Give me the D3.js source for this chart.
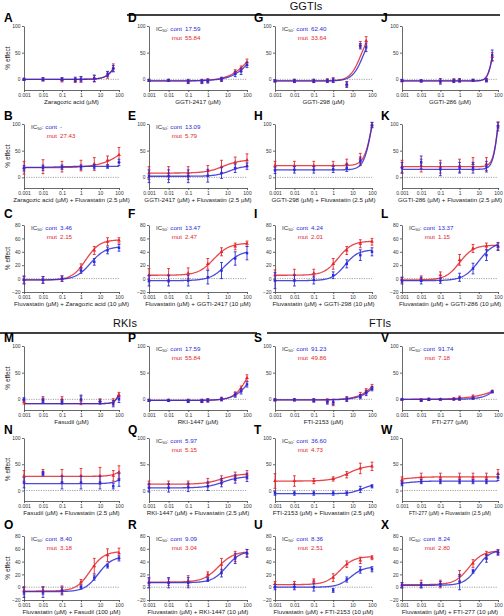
<!DOCTYPE html>
<html><head><meta charset="utf-8">
<script src="https://cdn.jsdelivr.net/npm/d3@7"></script>
<style>body{margin:0;background:#fff}svg{display:block}</style>
</head><body><svg id="chart" width="504" height="616"></svg>
<script>
// ---------------- DATA ----------------
const panelIds = ['A','D','G','J','B','E','H','K','C','F','I','L','M','P','S','V','N','Q','T','W','O','R','U','X'];
const xTitles = [
 'Zaragozic acid (µM)','GGTI-2417 (µM)','GGTI-298 (µM)','GGTI-286 (µM)',
 'Zaragozic acid (µM) + Fluvastatin (2.5 µM)','GGTI-2417 (µM) + Fluvastatin (2.5 µM)','GGTI-298 (µM) + Fluvastatin (2.5 µM)','GGTI-286 (µM) + Fluvastatin (2.5 µM)',
 'Fluvastatin (µM) + Zaragozic acid (10 µM)','Fluvastatin (µM) + GGTI-2417 (10 µM)','Fluvastatin (µM) + GGTI-298 (10 µM)','Fluvastatin (µM) + GGTI-286 (10 µM)',
 'Fasudil (µM)','RKI-1447 (µM)','FTI-2153 (µM)','FTI-277 (µM)',
 'Fasudil (µM) + Fluvastatin (2.5 µM)','RKI-1447 (µM) + Fluvastatin (2.5 µM)','FTI-2153 (µM) + Fluvastatin (2.5 µM)','FTI-277 (µM) + Fluvastatin (2.5 µM)',
 'Fluvastatin (µM) + Fasudil (100 µM)','Fluvastatin (µM) + RKI-1447 (10 µM)','Fluvastatin (µM) + FTI-2153 (10 µM)','Fluvastatin (µM) + FTI-277 (10 µM)'
];
const sectionTitles = ['GGTIs','RKIs','FTIs'];
const icCont = [null,'17.59','62.40',null,'-','13.09',null,null,'3.46','13.47','4.24','13.37',null,'17.59','91.23','91.74',null,'5.97','36.60',null,'8.40','9.09','8.36','8.24'];
const icMut  = [null,'55.84','33.64',null,'27.43','5.79',null,null,'2.15','2.47','2.01','1.15',null,'55.84','49.86','7.18',null,'5.15','4.73',null,'3.18','3.04','2.51','2.80'];
const xTickVals = [0.001,0.01,0.1,1,10,100];
const xTickLabels = ['0.001','0.01','0.1','1','10','100'];

const concs = [
 [0.001,0.01,0.1,0.5,1,5,25,50],
 [0.001,0.01,0.1,0.5,1,5,25,50,100],
 [0.001,0.01,0.1,0.5,1,5,25,50],
 [0.001,0.01,0.1,0.5,1,5,25,50],
 [0.001,0.01,0.1,1,5,25,100],
 [0.001,0.01,0.1,1,5,25,100],
 [0.001,0.01,0.1,1,5,25,100],
 [0.001,0.01,0.1,1,5,25,100],
 [0.001,0.01,0.1,1,5,25,100],
 [0.001,0.01,0.1,1,5,25,100],
 [0.001,0.01,0.1,1,5,25,100],
 [0.001,0.01,0.1,1,5,25,100],
 [0.001,0.01,0.1,1,10,50,100],
 [0.001,0.01,0.1,0.5,1,5,25,50,100],
 [0.001,0.01,0.1,0.5,1,5,25,50,100],
 [0.001,0.01,0.025,0.1,0.5,1,5,50],
 [0.001,0.01,0.1,1,10,50,100],
 [0.001,0.01,0.1,1,5,25,100],
 [0.001,0.01,0.1,1,5,25,100],
 [0.001,0.01,0.1,1,5,25,100],
 [0.001,0.01,0.1,1,5,25,100],
 [0.001,0.01,0.1,1,5,25,100],
 [0.001,0.01,0.1,1,5,25,100],
 [0.001,0.01,0.1,1,5,25,100]
];
const contMean = [
 [0,0,0,0,0,2,10,20],
 [-2,-2,-4,-4,-3,0,10,15,27],
 [-3,-3,-3,-3,-2,-10,62,60],
 [-2,-3,-4,-3,-2,-2,-2,45],
 [17,18,19,19,20,20,28],
 [2,2,2,3,8,17,21],
 [13,14,14,15,18,30,98],
 [18,28,15,18,18,20,95],
 [-2,-2,0,12,25,42,46],
 [-3,-3,-3,2,12,30,38],
 [-3,-3,-2,5,22,35,40],
 [-3,-3,-3,2,15,35,48],
 [0,-2,-5,0,-5,-8,0],
 [-2,-2,-3,-3,-2,0,8,15,28],
 [-1,-1,-2,-5,-5,0,5,12,20],
 [0,-2,0,0,0,1,2,14],
 [15,32,15,15,15,8,20],
 [5,5,6,8,15,22,25],
 [-5,-5,-5,-5,-5,2,8],
 [13,17,17,17,17,17,25],
 [-8,-8,-6,0,15,33,45],
 [7,7,7,12,22,45,53],
 [0,0,0,-5,12,27,28],
 [3,3,5,8,25,45,54]
];
const contErr = [
 [2,3,3,4,5,6,5,6],
 [2,2,4,4,4,4,5,6,5],
 [2,3,3,3,4,5,5,8],
 [2,2,5,3,3,2,3,10],
 [5,5,4,4,4,3,6],
 [12,12,12,12,10,8,6],
 [6,6,6,6,7,8,5],
 [10,12,12,10,10,10,8],
 [6,5,4,4,5,5,5],
 [8,8,8,10,12,10,10],
 [12,8,6,5,6,8,6],
 [5,5,4,6,8,8,6],
 [3,4,4,8,4,6,6],
 [2,2,3,3,3,3,4,5,5],
 [2,2,3,4,5,4,4,5,4],
 [1,2,2,1,1,2,2,2],
 [10,4,12,12,12,5,12],
 [8,8,8,8,8,8,8],
 [4,4,4,4,4,6,3],
 [4,4,4,4,4,4,6],
 [8,8,6,3,4,3,4],
 [8,8,8,3,6,8,6],
 [4,4,6,3,4,5,4],
 [4,4,4,12,3,6,4]
];
const mutMean = [
 [0,0,-1,-2,0,1,8,22],
 [-2,-2,-4,-4,-3,0,14,20,32],
 [-3,-3,-3,-2,-1,-9,65,72],
 [-3,-3,-3,-2,-2,-2,-1,42],
 [18,20,20,22,25,32,42],
 [8,8,8,12,20,28,32],
 [22,22,22,22,25,35,98],
 [20,22,20,22,25,25,98],
 [-2,-2,0,17,42,55,57],
 [5,5,8,22,40,48,52],
 [5,6,8,22,42,52,55],
 [-2,0,5,28,45,48,48],
 [-5,0,0,-2,-3,-5,8],
 [-2,-2,-3,-3,-2,1,10,20,40],
 [-1,-1,-2,-3,-6,1,8,15,23],
 [0,-1,0,0,1,2,5,15],
 [28,35,28,28,28,28,35],
 [12,12,12,15,20,27,30],
 [18,18,18,22,30,42,46],
 [20,25,25,25,25,25,32],
 [-5,-5,-4,8,33,50,53],
 [8,8,10,20,35,48,53],
 [5,5,10,15,36,42,46],
 [3,5,5,18,37,50,55]
];
const mutErr = [
 [2,3,4,4,5,6,6,7],
 [2,2,3,3,3,3,4,5,6],
 [2,3,3,3,4,5,6,8],
 [2,2,4,3,3,2,3,8],
 [12,13,10,10,12,8,14],
 [12,12,12,10,12,10,12],
 [8,8,8,8,9,10,5],
 [12,12,12,12,12,12,6],
 [5,5,4,5,6,6,4],
 [10,10,8,8,6,5,4],
 [8,8,6,8,6,6,5],
 [4,4,5,8,6,5,5],
 [4,5,5,8,4,6,5],
 [2,2,3,3,3,3,4,5,6],
 [2,2,3,4,6,4,5,5,5],
 [1,2,2,1,2,4,3,2],
 [10,5,12,14,16,10,12],
 [6,6,6,8,8,8,8],
 [14,10,5,4,6,10,8],
 [6,8,8,8,8,8,8],
 [6,6,6,4,12,10,8],
 [5,5,8,4,10,8,6],
 [4,4,3,6,5,5,3],
 [4,6,6,8,6,6,4]
];
// fitted dose-response parameters: [bottom, top, EC50, hill]
const contFit = [
 [0,100,126,1.5],[-3,100,290,0.79],[-3,100,39,1.5],[-3,100,54,3.2],
 [18.5,20.5,0.05,1],[2,22,13,1.2],[14,200,110,2],[15,200,108,3],
 [-2,48,3.2,1.1],[-3,42,8,1.1],[-3,43,4,1.3],[-3,55,10,1.1],
 [-8,100,178,2.8],[-2,100,246,0.97],[-1,100,384,0.95],[0,100,290,1.03],
 [13,60,300,1.5],[5,27,6,1],[-6,12,30,1.5],[12,18,0.002,1],
 [-7,48,8,1.2],[7,57,9,1.2],[0,32,8,1.3],[3,58,8,1.3]
];
const mutFit = [
 [0,100,120,1.55],[-3,100,224,0.77],[-3,100,29,1.5],[-3,100,55,3.2],
 [18,100,406,0.63],[8,33,6,1],[22,200,116,2],[20,200,110,3],
 [-2,58,1.8,1.2],[5,53,2,1.1],[5,56,1.8,1.2],[-2,50,1,1.2],
 [-8,100,170,2.8],[-2,100,135,1.19],[-1,100,359,0.87],[0,100,1350,0.525],
 [27,60,200,1.5],[12,32,5,1],[18,48,6,1],[20,26,0.002,1],
 [-6,56,3,1.2],[8,56,3.5,1.1],[4,48,2.2,1.2],[4,57,3,1.2]
];

// ---------------- LAYOUT ----------------
const FONT = '"Liberation Sans", Arial, Helvetica, sans-serif';
const BLUE = '#2b2bd6', RED = '#e3262b', AX = '#444';
const colX = [[24,119],[149,247],[275,372],[402,498]];
const rowY = [[26,90],[124,188],[225,292],[346,410],[438,501],[536,600]];
const rowDom = [[-20,100],[-20,100],[-20,80],[-20,100],[-20,100],[-20,80]];
const rowTicks = [[0,50,100],[0,50,100],[-20,0,20,40,60,80],[0,50,100],[0,50,100],[-20,0,20,40,60,80]];
const letterX = [4,128,254,381];

const svg = d3.select('#chart');

// section headers
const secPos = [{x:306,y:10,x1:127,x2:500,ly:15},{x:125,y:327,x1:0,x2:257,ly:333},{x:380,y:327,x1:267,x2:504,ly:333}];
sectionTitles.forEach((t,k)=>{
  const s = secPos[k];
  svg.append('text').attr('x',s.x).attr('y',s.y).attr('text-anchor','middle')
    .attr('font-family',FONT).attr('font-size',11).attr('fill','#111').text(t);
  svg.append('line').attr('x1',s.x1).attr('x2',s.x2).attr('y1',s.ly).attr('y2',s.ly)
    .attr('stroke','#000').attr('stroke-width',1.3);
});

function fitVal(p, x){ return p[0] + (p[1]-p[0])/(1+Math.pow(p[2]/x, p[3])); }

panelIds.forEach((id,i)=>{
  const r = Math.floor(i/4), c = i%4;
  const x = d3.scaleLog().domain([0.001,100]).range(colX[c]);
  const y = d3.scaleLinear().domain(rowDom[r]).range([rowY[r][1], rowY[r][0]]);
  const g = svg.append('g');

  // zero line
  g.append('line').attr('x1',colX[c][0]).attr('x2',colX[c][1]).attr('y1',y(0)).attr('y2',y(0))
    .attr('stroke','#8c8c8c').attr('stroke-width',0.8).attr('stroke-dasharray','1.2,1.2');

  // axes
  const xa = g.append('g').attr('transform',`translate(0,${rowY[r][1]})`)
    .call(d3.axisBottom(x).tickValues(xTickVals).tickFormat((d,j)=>xTickLabels[j]).tickSize(2).tickSizeOuter(0).tickPadding(1.5));
  const ya = g.append('g').attr('transform',`translate(${colX[c][0]},0)`)
    .call(d3.axisLeft(y).tickValues(rowTicks[r]).tickSize(2).tickSizeOuter(0).tickPadding(1.5));
  [xa,ya].forEach(a=>{
    a.selectAll('path,line').attr('stroke',AX).attr('stroke-width',0.8);
    a.selectAll('text').attr('font-size',5).attr('fill','#333').attr('font-family',FONT);
  });

  // x title
  g.append('text').attr('x',(colX[c][0]+colX[c][1])/2).attr('y',rowY[r][1]+14)
    .attr('text-anchor','middle').attr('font-family',FONT).attr('font-size', id==='W'?5.2:6.2).attr('fill','#222')
    .text(xTitles[i]);

  // y title (first column)
  if (c===0){
    g.append('text').attr('transform',`translate(10,${(rowY[r][0]+rowY[r][1])/2}) rotate(-90)`)
      .attr('text-anchor','middle').attr('font-family',FONT).attr('font-size',6.5).attr('fill','#222').text('% effect');
  }

  // panel letter
  g.append('text').attr('x',letterX[c]).attr('y', rowY[r][0] - (rowDom[r][1]===80 ? 7 : 4))
    .attr('font-family',FONT).attr('font-weight','bold').attr('font-size',12).attr('fill','#000').text(id);

  // series
  const xmax = d3.max(concs[i]);
  const xs = d3.range(0,121).map(k=>Math.pow(10, -3 + k*(Math.log10(xmax)+3)/120));
  const series = [
    {mean: mutMean[i], err: mutErr[i], fit: mutFit[i], col: RED, sym: d3.symbolTriangle},
    {mean: contMean[i], err: contErr[i], fit: contFit[i], col: BLUE, sym: d3.symbolSquare}
  ];
  series.forEach(s=>{
    g.append('path').datum(xs)
      .attr('d', d3.line().x(d=>x(d)).y(d=>y(fitVal(s.fit,d))))
      .attr('fill','none').attr('stroke',s.col).attr('stroke-width',1.3).attr('stroke-opacity',0.85);
  });
  series.forEach(s=>{
    const pts = concs[i].map((cc,j)=>({c:cc,m:s.mean[j],e:s.err[j]}));
    const eb = g.append('g').attr('stroke',s.col).attr('stroke-width',0.9);
    pts.forEach(p=>{
      const px = x(p.c);
      eb.append('line').attr('x1',px).attr('x2',px).attr('y1',y(p.m-p.e)).attr('y2',y(p.m+p.e));
      eb.append('line').attr('x1',px-1.4).attr('x2',px+1.4).attr('y1',y(p.m-p.e)).attr('y2',y(p.m-p.e));
      eb.append('line').attr('x1',px-1.4).attr('x2',px+1.4).attr('y1',y(p.m+p.e)).attr('y2',y(p.m+p.e));
    });
    g.append('g').selectAll('path').data(pts).join('path')
      .attr('transform',p=>`translate(${x(p.c)},${y(p.m)})`)
      .attr('d', d3.symbol().type(s.sym).size(6))
      .attr('fill',s.col);
  });

  // IC50 annotation
  if (icCont[i] !== null){
    const x0 = colX[c][0] + 7, y0 = rowY[r][0] + 5;
    const t = g.append('text').attr('x',x0).attr('y',y0).attr('font-family',FONT).attr('font-size',6.2);
    t.append('tspan').attr('fill','#333').text('IC');
    t.append('tspan').attr('fill','#333').attr('font-size',4.2).attr('dy',1.2).text('50');
    t.append('tspan').attr('fill','#333').attr('dy',-1.2).text(': ');
    t.append('tspan').attr('fill',BLUE).text('cont');
    const len = t.node().getComputedTextLength();
    g.append('text').attr('x',x0+len+3).attr('y',y0).attr('font-family',FONT).attr('font-size',6.2)
      .attr('fill',BLUE).text(icCont[i]);
    g.append('text').attr('x',x0+len).attr('y',y0+8.5).attr('text-anchor','end').attr('font-family',FONT).attr('font-size',6.2)
      .attr('fill',RED).text('mut');
    g.append('text').attr('x',x0+len+3).attr('y',y0+8.5).attr('font-family',FONT).attr('font-size',6.2)
      .attr('fill',RED).text(icMut[i]);
  }
});
</script>
</body></html>
